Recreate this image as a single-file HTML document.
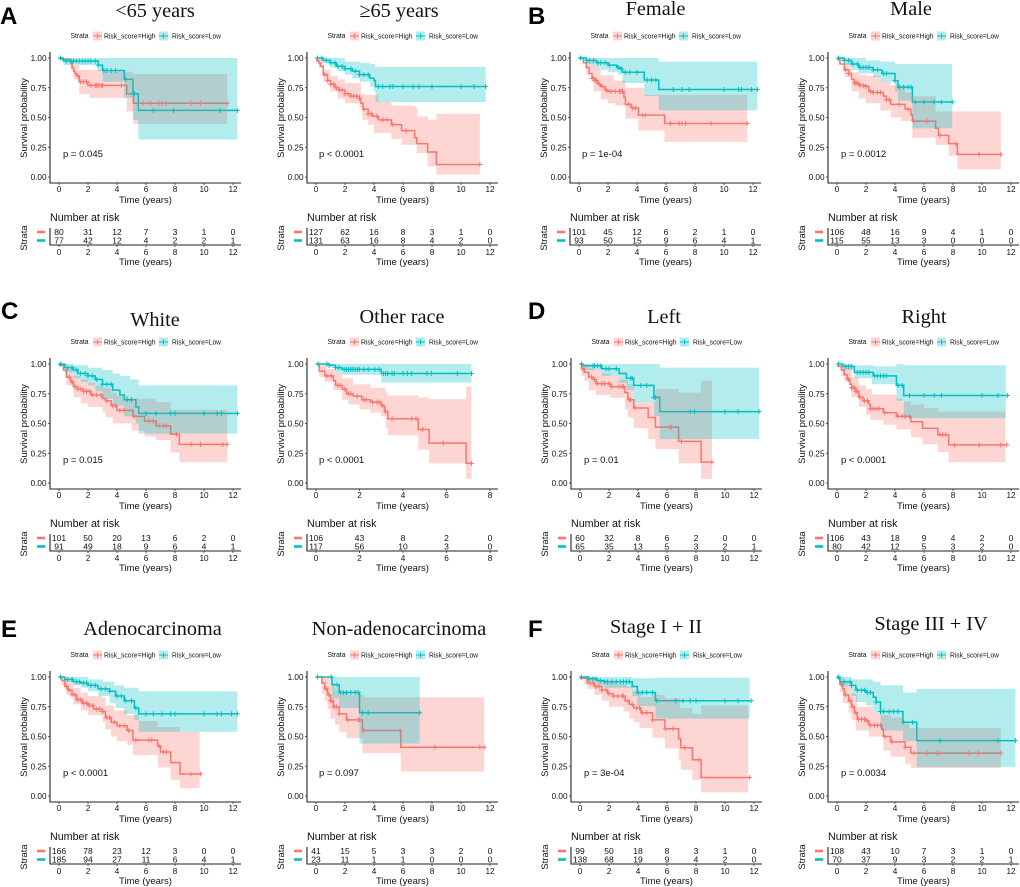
<!DOCTYPE html>
<html lang="en">
<head>
<meta charset="utf-8">
<title>Kaplan-Meier survival curves by risk score</title>
<style>
html,body{margin:0;padding:0;background:#fff;}
svg{display:block;filter:blur(.3px);}
text{font-family:"Liberation Sans",sans-serif;fill:#111;}
.ttl{font-family:"Liberation Serif",serif;font-size:20.3px;text-anchor:middle;fill:#111;}
.ltr{font-size:24px;font-weight:bold;fill:#000;}
.pv{font-size:9.5px;}
</style>
</head>
<body>
<svg id="fig" width="1020" height="887" viewBox="0 0 1020 887" xmlns="http://www.w3.org/2000/svg">
<rect width="1020" height="887" fill="#fff"/>
<text class="ltr" x="0" y="24">A</text>
<text class="ltr" x="528" y="24">B</text>
<text class="ltr" x="1" y="319">C</text>
<text class="ltr" x="528" y="319">D</text>
<text class="ltr" x="1" y="637">E</text>
<text class="ltr" x="528" y="637">F</text>
<text class="ttl" x="155" y="17">&lt;65 years</text>
<text class="ttl" x="399" y="17">≥65 years</text>
<text class="ttl" x="655.5" y="15">Female</text>
<text class="ttl" x="911" y="15">Male</text>
<text class="ttl" x="155" y="326">White</text>
<text class="ttl" x="402" y="323">Other race</text>
<text class="ttl" x="664" y="323">Left</text>
<text class="ttl" x="924" y="323">Right</text>
<text class="ttl" x="152.5" y="635">Adenocarcinoma</text>
<text class="ttl" x="399" y="635">Non-adenocarcinoma</text>
<text class="ttl" x="656" y="633">Stage I + II</text>
<text class="ttl" x="931" y="630">Stage III + IV</text>
<g id="panels"></g>
<g>
<text class="pv" x="63" y="157">p = 0.045</text>
<text class="pv" x="319" y="157">p &lt; 0.0001</text>
<text class="pv" x="582" y="157">p = 1e-04</text>
<text class="pv" x="841" y="157">p = 0.0012</text>
<text class="pv" x="63" y="463">p = 0.015</text>
<text class="pv" x="319" y="463">p &lt; 0.0001</text>
<text class="pv" x="584" y="463">p = 0.01</text>
<text class="pv" x="841" y="463">p &lt; 0.0001</text>
<text class="pv" x="63" y="776">p &lt; 0.0001</text>
<text class="pv" x="319" y="776">p = 0.097</text>
<text class="pv" x="584" y="776">p = 3e-04</text>
<text class="pv" x="841" y="776">p = 0.0034</text>
</g>
</svg>
<script>
const timeTicks12=[0,2,4,6,8,10,12];
const timeTicks8=[0,2,4,6,8];
const survivalTicks=[0,0.25,0.5,0.75,1];
const survivalTickLabels=['0.00','0.25','0.50','0.75','1.00'];

const a1HighCurve=[[0,1],[.2,.99],[.8,.96],[.9,.92],[1,.89],[1.1,.87],[1.2,.85],[1.4,.8],[2,.77],[4.67,.7],[5.13,.62],[11.6,.62]];
const a1HighUpper=[[0,1],[.8,.99],[1,.94],[1.4,.9],[2.9,.885],[5.13,.865],[11.6,.865]];
const a1HighLower=[[0,1],[.8,.9],[1,.82],[1.4,.695],[2.1,.665],[4.67,.55],[5.13,.445],[11.6,.445]];
const a1HighCensor=[1.3,1.5,1.7,1.9,2.2,2.5,2.6,2.7,2.9,3,4.3,5.8,6.3,6.9,7.1,7.35,9.1,9.75,11.6];
const a1LowCurve=[[0,1],[.3,.975],[2.7,.94],[3,.895],[4.5,.82],[5.1,.7],[5.47,.56],[12.3,.56]];
const a1LowUpper=[[0,1],[12.3,1]];
const a1LowLower=[[0,1],[.3,.94],[2.65,.89],[3,.8],[4.5,.665],[5.1,.48],[5.47,.315],[12.3,.315]];
const a1LowCensor=[.1,.5,.8,1,1.2,1.4,1.6,1.8,2,2.2,2.5,2.7,3.1,3.3,3.6,3.9,4.6,5.2,6.5,7.9,11.1,12.3];
const a1RiskHigh=[80,31,12,7,3,1,0];
const a1RiskLow=[77,42,12,4,2,2,1];

const a2HighCurve=[[0,.98],[.2,.96],[.3,.93],[.5,.86],[.8,.81],[1,.78],[1.3,.75],[1.6,.73],[2,.7],[2.4,.68],[3,.66],[3.1,.62],[3.25,.57],[3.6,.53],[3.9,.51],[4.3,.48],[5.2,.44],[5.9,.39],[6.8,.33],[6.95,.28],[7.7,.21],[8.3,.105],[11.3,.105]];
const a2HighUpper=[[0,1],[.5,.9],[1,.85],[1.5,.82],[2,.79],[3.1,.7],[3.3,.69],[4.3,.63],[5.2,.6],[6.8,.585],[7,.51],[7.7,.48],[8.3,.53],[11.3,.53]];
const a2HighLower=[[0,.96],[.2,.92],[.5,.8],[1,.72],[1.5,.66],[2,.62],[3,.58],[3.2,.48],[3.6,.44],[4,.37],[5.2,.32],[5.9,.27],[6.95,.2],[7.7,.09],[8.3,.02],[11.3,.02]];
const a2HighCensor=[.6,.8,1,1.2,1.4,1.6,1.8,2,2.2,2.4,2.6,2.8,3,3.3,3.6,3.8,4.2,4.6,4.9,5.3,6.2,11.3];
const a2LowCurve=[[0,1],[.5,.98],[1,.96],[1.4,.93],[2,.91],[2.5,.89],[3,.86],[3.7,.83],[4,.81],[4.1,.76],[11.7,.76]];
const a2LowUpper=[[0,1],[2,.97],[3,.96],[3.7,.95],[4.1,.925],[11.7,.925]];
const a2LowLower=[[0,1],[.5,.96],[1,.92],[1.5,.89],[2,.86],[2.5,.83],[3,.8],[3.7,.76],[4,.72],[4.1,.63],[11.7,.63]];
const a2LowCensor=[.1,.4,.7,1,1.3,1.5,1.8,2,2.4,2.7,3,3.3,3.6,4.3,4.6,5.1,5.3,6,6.7,7.1,8,10,10.9,11.7];
const a2RiskHigh=[127,62,16,8,3,1,0];
const a2RiskLow=[131,63,16,8,4,2,0];

const b1HighCurve=[[0,1],[.3,.96],[.5,.92],[.7,.87],[.9,.83],[1.1,.81],[1.3,.78],[1.5,.76],[1.8,.73],[2,.72],[3.1,.67],[3.2,.61],[3.6,.58],[4.1,.52],[5.9,.45],[11.6,.45]];
const b1HighUpper=[[0,1],[.5,.97],[1,.92],[1.5,.855],[2.4,.81],[3.2,.75],[4.5,.69],[11.6,.69]];
const b1HighLower=[[0,1],[.5,.86],[1,.72],[1.5,.65],[2,.62],[2.5,.6],[3.2,.49],[4.1,.39],[5.9,.295],[11.6,.295]];
const b1HighCensor=[.9,1,1.1,1.2,1.4,1.6,1.9,2.2,2.5,2.8,2.9,3,3.4,3.7,3.9,4.4,4.6,6.3,6.9,7.1,7.35,9.1,11.6];
const b1LowCurve=[[0,1],[.5,.98],[1.2,.96],[2,.94],[2.6,.92],[2.9,.91],[3,.88],[4.5,.815],[5.5,.735],[12.3,.735]];
const b1LowUpper=[[0,1],[5.5,.97],[12.3,.97]];
const b1LowLower=[[0,1],[.5,.95],[1,.92],[1.5,.9],[2,.88],[2.7,.86],[3,.79],[4.5,.68],[5.5,.56],[12.3,.56]];
const b1LowCensor=[.1,.5,.7,1,1.3,1.5,1.8,2.1,2.7,2.9,3.2,3.5,4,4.7,5,5.3,6.5,7.1,7.6,10,11,11.2,11.9,12.3];
const b1RiskHigh=[101,45,12,6,2,1,0];
const b1RiskLow=[93,50,15,9,6,4,1];

const b2HighCurve=[[0,.99],[.2,.95],[.5,.9],[.8,.87],[1,.82],[1.2,.79],[1.5,.77],[2,.76],[2.2,.72],[2.5,.71],[3.2,.68],[3.4,.65],[3.7,.61],[4.7,.57],[5.1,.52],[5.2,.47],[6.8,.41],[7,.35],[7.7,.28],[8.3,.19],[11.3,.19]];
const b2HighUpper=[[0,1],[.5,.96],[1,.88],[1.5,.86],[2,.85],[3,.8],[3.7,.77],[4.7,.71],[5.2,.68],[6.8,.55],[11.3,.55]];
const b2HighLower=[[0,.97],[.5,.84],[1,.72],[1.5,.66],[2,.62],[3,.56],[3.7,.5],[4.4,.47],[5.2,.33],[6.8,.27],[7.7,.18],[8.3,.065],[11.3,.065]];
const b2HighCensor=[.6,.8,1.2,1.3,1.4,1.6,1.8,2,2.3,2.5,2.8,3,3.4,3.6,4.3,4.9,5.3,6.2,7.1,8.2,9.8,11.3];
const b2LowCurve=[[0,1],[.5,.98],[1,.95],[1.5,.92],[2.5,.9],[3.1,.87],[4,.81],[4.2,.755],[5.2,.63],[7.95,.63]];
const b2LowUpper=[[0,1],[2,.98],[3,.97],[4,.95],[7.95,.95]];
const b2LowLower=[[0,1],[.5,.94],[1,.9],[1.5,.87],[2.5,.84],[3,.8],[4,.72],[4.2,.64],[5.2,.41],[7.95,.41]];
const b2LowCensor=[.1,.5,.8,1.1,1.4,1.6,1.8,2,2.2,2.5,2.8,3.2,3.4,4,4.3,4.6,4.9,5.1,5.4,6,6.7,7.2,7.95];
const b2RiskHigh=[106,48,16,9,4,1,0];
const b2RiskLow=[115,55,13,3,0,0,0];

const c1HighCurve=[[0,.99],[.3,.95],[.5,.89],[.8,.85],[1,.81],[1.3,.79],[1.7,.77],[2.2,.74],[3,.71],[3.2,.69],[3.6,.65],[4,.61],[5.1,.56],[5.9,.52],[6.7,.48],[7.7,.41],[8.3,.325],[11.6,.325]];
const c1HighUpper=[[0,1],[.5,.96],[1,.9],[1.5,.87],[2,.84],[2.5,.82],[3,.8],[3.6,.76],[4,.73],[4.8,.71],[6.7,.68],[7.7,.615],[11.6,.615]];
const c1HighLower=[[0,.98],[.5,.82],[1,.72],[1.5,.67],[2,.64],[3,.6],[3.2,.55],[3.7,.5],[5,.44],[5.9,.39],[6.7,.36],[7.7,.255],[8.3,.175],[11.6,.175]];
const c1HighCensor=[.7,.9,1.1,1.3,1.5,1.7,1.9,2.1,2.3,2.6,2.9,3.3,3.7,3.9,4.2,4.5,5.2,6.2,6.5,6.9,7.2,7.4,8.1,9.1,9.75,11.3,11.6];
const c1LowCurve=[[0,1],[.4,.97],[1,.95],[1.3,.92],[2,.9],[2.5,.87],[3,.83],[3.7,.78],[4.2,.74],[4.5,.7],[5.3,.64],[5.5,.585],[12.3,.585]];
const c1LowUpper=[[0,1],[1,.99],[2,.97],[3,.95],[3.7,.92],[4.2,.9],[4.9,.87],[5.5,.82],[12.3,.82]];
const c1LowLower=[[0,1],[.4,.93],[1,.88],[1.5,.85],[2,.82],[2.5,.77],[3,.71],[3.7,.65],[4.5,.56],[5.3,.5],[5.5,.415],[12.3,.415]];
const c1LowCensor=[.1,.6,.9,1.2,1.5,1.8,2,2.3,2.6,3,3.3,3.6,4.7,5,6,6.7,7.7,8,10,10.9,11.2,12.3];
const c1RiskHigh=[101,50,20,13,6,2,0];
const c1RiskLow=[91,49,18,9,6,4,1];

const c2HighCurve=[[0,1],[.15,.94],[.4,.9],[.8,.86],[.9,.82],[1.2,.79],[1.4,.75],[1.7,.73],[2.1,.7],[2.5,.68],[3,.65],[3.15,.6],[3.3,.54],[4.7,.45],[5.2,.335],[6.9,.165],[7.15,.165]];
const c2HighUpper=[[0,1],[.5,.96],[.9,.93],[1.2,.88],[1.7,.83],[2.5,.8],[3.2,.76],[3.3,.735],[4.7,.72],[5.2,.705],[6.9,.81],[7.15,.81]];
const c2HighLower=[[0,1],[.15,.89],[.4,.85],[.8,.78],[1.2,.7],[1.5,.66],[2,.62],[2.5,.59],[3,.56],[3.2,.46],[3.3,.4],[4.7,.28],[5.2,.165],[6.9,.035],[7.15,.035]];
const c2HighCensor=[.5,.7,1,1.1,1.3,1.5,1.6,1.9,2.2,2.3,2.6,2.8,2.9,3.05,3.2,3.5,4.4,4.6,4.9,5.85,7.15];
const c2LowCurve=[[0,1],[.6,.99],[.9,.97],[1.2,.955],[3,.92],[7.15,.92]];
const c2LowUpper=[[0,1],[7.15,1]];
const c2LowLower=[[0,1],[.6,.97],[.9,.93],[1.2,.91],[3,.845],[7.15,.845]];
const c2LowCensor=[.1,.5,.6,.9,1.05,1.3,1.4,1.5,1.6,1.7,1.8,1.9,2,2.2,2.4,2.7,2.9,3.1,3.2,3.3,3.5,3.6,4,4.2,4.4,5.1,5.3,6.5,7.15];
const c2RiskHigh=[106,43,8,2,0];
const c2RiskLow=[117,56,10,3,0];

const d1HighCurve=[[0,1],[.1,.96],[.3,.93],[.6,.89],[.9,.87],[1.1,.835],[2.1,.81],[3.1,.76],[3.3,.7],[3.7,.63],[4.7,.55],[5.2,.47],[6.8,.35],[8.35,.175],[9.1,.175]];
const d1HighUpper=[[0,1],[.6,.97],[1,.95],[1.5,.92],[2.1,.9],[2.7,.87],[3.3,.83],[3.7,.68],[5.2,.79],[6.8,.76],[8.35,.86],[9.1,.86]];
const d1HighLower=[[0,1],[.1,.9],[.3,.86],[.6,.78],[1.1,.74],[2.1,.715],[3.1,.62],[3.3,.55],[3.7,.46],[4.7,.37],[5.2,.285],[6.8,.165],[8.35,.035],[9.1,.035]];
const d1HighCensor=[.2,.8,1,1.2,1.5,1.7,2,2.2,2.7,2.9,3,3.4,3.5,3.8,6.2,6.3,7,9.1];
const d1LowCurve=[[0,1],[.2,.985],[1.5,.96],[2.7,.92],[3.2,.88],[3.7,.82],[5.1,.72],[5.5,.6],[12.35,.6]];
const d1LowUpper=[[0,1],[5.5,.97],[12.35,.97]];
const d1LowLower=[[0,1],[.2,.95],[1.5,.9],[2.7,.84],[3.2,.78],[3.7,.68],[5.1,.56],[5.5,.37],[12.35,.37]];
const d1LowCensor=[.1,.9,1,1.2,1.4,1.8,2,2.5,3.5,3.6,4.2,4.6,5.1,5.2,7.6,7.9,10,10.9,12.35];
const d1RiskHigh=[60,32,8,6,2,0,0];
const d1RiskLow=[65,35,13,5,3,2,1];

const d2HighCurve=[[0,.98],[.3,.95],[.5,.91],[.7,.87],[.9,.83],[1,.8],[1.3,.77],[1.5,.72],[1.8,.69],[2.2,.66],[2.3,.625],[3.2,.59],[4.1,.56],[5.1,.515],[5.9,.46],[6.95,.405],[7.7,.32],[11.7,.32]];
const d2HighUpper=[[0,1],[.5,.97],[1,.89],[1.5,.82],[2,.79],[2.4,.745],[4.1,.71],[4.5,.685],[5.1,.66],[6,.63],[7,.6],[11.6,.6]];
const d2HighLower=[[0,.98],[.3,.9],[.5,.85],[1,.72],[1.5,.64],[2,.58],[2.3,.53],[3.2,.49],[4.1,.45],[5.1,.385],[5.9,.325],[6.95,.26],[7.7,.175],[11.6,.175]];
const d2HighCensor=[.8,1,1.1,1.2,1.3,1.4,1.6,1.9,2.1,2.3,2.5,2.7,2.9,3.3,4.2,4.5,4.7,5,7.1,7.3,7.5,8.1,9.8,11.3,11.7];
const d2LowCurve=[[0,1],[.4,.98],[1.2,.93],[2.5,.9],[4.1,.82],[4.6,.735],[11.75,.735]];
const d2LowUpper=[[0,1],[1,.99],[2.5,.98],[4.1,1],[4.6,.99],[11.65,.99]];
const d2LowLower=[[0,1],[.4,.95],[1.2,.88],[2.4,.83],[4.1,.69],[4.6,.545],[11.65,.545]];
const d2LowCensor=[.1,.6,.8,1,1.4,1.6,1.8,2,2.2,2.6,2.8,3,3.2,3.4,4.2,4.5,5,6,6.7,7.2,10,11.1,11.75];
const d2RiskHigh=[106,43,18,9,4,2,0];
const d2RiskLow=[80,42,12,5,3,2,0];

const e1HighCurve=[[0,1],[.2,.97],[.4,.92],[.6,.89],[.9,.85],[1.2,.81],[1.6,.78],[2,.76],[2.4,.73],[3,.71],[3.2,.66],[3.6,.62],[4,.59],[4.7,.55],[5.1,.47],[6.8,.42],[7,.37],[7.7,.28],[8.35,.185],[9.8,.185]];
const e1HighUpper=[[0,1],[.4,.97],[1,.91],[1.5,.87],[2,.84],[3,.83],[3.2,.76],[3.8,.72],[4.7,.68],[5.5,.63],[6.8,.58],[8.35,.54],[9.7,.54]];
const e1HighLower=[[0,1],[.2,.93],[.5,.85],[1,.77],[1.5,.72],[2,.68],[3,.62],[3.2,.56],[3.6,.5],[4,.46],[4.7,.43],[5.1,.345],[6.8,.24],[7.7,.135],[8.35,.065],[9.7,.065]];
const e1HighCensor=[.5,.7,.9,1.1,1.3,1.5,1.7,1.9,2.1,2.3,2.6,2.8,3,3.3,3.5,3.8,4.2,4.5,4.8,5.3,6.2,6.4,6.9,7.2,7.4,9.1,9.75];
const e1LowCurve=[[0,1],[.4,.98],[1,.96],[1.5,.95],[2,.93],[2.7,.9],[3.5,.88],[3.9,.84],[4.5,.8],[5.2,.74],[5.5,.69],[12.3,.69]];
const e1LowUpper=[[0,1],[2,.98],[3,.96],[3.8,.93],[4.5,.91],[5.5,.88],[12.3,.88]];
const e1LowLower=[[0,1],[.4,.96],[1,.93],[1.5,.91],[2,.88],[2.7,.84],[3.5,.78],[3.9,.74],[4.5,.69],[5.2,.64],[5.5,.54],[12.3,.54]];
const e1LowCensor=[.1,.6,.9,1.2,1.4,1.7,1.9,2.2,2.5,2.9,3.2,3.5,4,4.3,4.6,5,5.3,6,6.5,7.1,7.7,8,10,10.9,11.2,11.9,12.3];
const e1RiskHigh=[166,78,23,12,3,0,0];
const e1RiskLow=[185,94,27,11,6,4,1];

const e2HighCurve=[[0,1],[.4,.95],[.6,.9],[.8,.85],[1,.8],[1.2,.75],[1.6,.69],[2.1,.64],[3.2,.55],[5.85,.41],[11.6,.41]];
const e2HighUpper=[[0,1],[1,.95],[1.3,.9],[1.6,.88],[2.2,.85],[3.3,.83],[11.6,.83]];
const e2HighLower=[[0,1],[.4,.86],[.6,.8],[.8,.73],[1,.65],[1.3,.6],[1.6,.54],[2.1,.485],[3.2,.36],[5.85,.205],[11.6,.205]];
const e2HighCensor=[.7,.9,1,1.1,1.25,1.4,1.6,2.2,2.9,3,3.3,5.8,8.2,11.3,11.6];
const e2LowCurve=[[0,1],[1.1,.935],[1.6,.87],[3,.7],[7.15,.7]];
const e2LowUpper=[[0,1],[7.15,1]];
const e2LowLower=[[0,1],[1.1,.82],[1.6,.74],[3,.44],[7.15,.44]];
const e2LowCensor=[.1,1.05,1.45,1.7,1.9,2.1,2.4,2.7,2.9,3.2,3.6,7.15];
const e2RiskHigh=[41,15,5,3,3,2,0];
const e2RiskLow=[23,11,1,1,0,0,0];

const f1HighCurve=[[0,.99],[.5,.95],[1,.92],[1.5,.89],[1.9,.86],[2.3,.84],[3.1,.8],[3.4,.77],[3.7,.74],[4.2,.7],[5,.64],[5.85,.565],[6.8,.48],[6.95,.405],[7.75,.305],[8.35,.155],[11.7,.155]];
const f1HighUpper=[[0,1],[1,.98],[1.5,.97],[2.5,.94],[3.2,.92],[3.6,.88],[4.2,.83],[5,.85],[5.85,.82],[6.9,.74],[7.75,.69],[8.35,.76],[11.6,.76]];
const f1HighLower=[[0,.98],[.3,.94],[.5,.9],[1,.85],[1.5,.8],[2,.75],[3,.71],[3.4,.65],[3.7,.62],[4.1,.57],[5,.49],[5.85,.4],[6.8,.305],[6.95,.22],[7.75,.135],[8.35,.03],[11.6,.03]];
const f1HighCensor=[.7,.9,1.1,1.3,1.5,1.8,2,2.3,2.6,2.9,3,3.3,3.6,3.9,4.1,4.3,4.6,5,5.9,6.4,7.2,8.2,11.7];
const f1LowCurve=[[0,1],[.6,.985],[1.2,.97],[1.7,.96],[3.6,.92],[3.95,.87],[5.2,.8],[11.8,.8]];
const f1LowUpper=[[0,1],[3.6,.99],[5.2,.995],[11.7,.995]];
const f1LowLower=[[0,1],[.6,.96],[1.2,.93],[1.7,.91],[3.6,.84],[3.95,.755],[5.2,.65],[11.7,.65]];
const f1LowCensor=[.1,.6,.9,1.1,1.4,1.7,1.9,2.2,2.5,2.8,3,3.2,3.4,4,4.3,4.6,5,5.3,6.6,7.1,7.6,8,10,10.9,11.8];
const f1RiskHigh=[99,50,18,8,3,1,0];
const f1RiskLow=[138,68,19,9,4,2,0];

const f2HighCurve=[[0,.99],[.2,.94],[.4,.9],[.5,.85],[.8,.8],[1,.75],[1.2,.7],[1.4,.645],[2,.63],[2.2,.595],[3.1,.56],[3.2,.5],[3.7,.455],[4.7,.41],[5.1,.36],[11.3,.36]];
const f2HighUpper=[[0,1],[.5,.97],[.8,.92],[1,.86],[1.4,.75],[2.5,.7],[3.1,.68],[3.7,.66],[4.6,.61],[5,.57],[11.3,.57]];
const f2HighLower=[[0,1],[.2,.87],[.4,.78],[.8,.7],[1,.64],[1.3,.55],[2.2,.5],[3.2,.38],[3.7,.33],[4.7,.27],[5.1,.235],[11.3,.235]];
const f2HighCensor=[.3,.6,.9,1.1,1.3,1.5,1.7,1.9,2.1,2.3,2.6,2.8,3,3.3,3.8,4.7,5.3,6.2,6.9,7.1,9.1,9.75,11.3];
const f2LowCurve=[[0,1],[.2,.96],[1,.93],[1.3,.89],[2,.87],[2.5,.83],[2.7,.79],[3,.71],[4.55,.62],[5.5,.465],[12.3,.465]];
const f2LowUpper=[[0,1],[1,.98],[2.5,.96],[3,.93],[4.55,.87],[5.5,.9],[12.3,.9]];
const f2LowLower=[[0,1],[.2,.92],[1,.84],[1.3,.79],[2,.76],[2.5,.7],[3,.55],[4.55,.46],[5.5,.245],[12.3,.245]];
const f2LowCensor=[.1,.5,.9,1,1.4,1.7,1.9,2.1,2.3,2.7,3,3.2,3.6,3.9,4.2,4.6,5.2,7.1,11.1,12.3];
const f2RiskHigh=[108,43,10,7,3,1,0];
const f2RiskLow=[70,37,9,3,2,2,1];

const HIGH_COLOR='#F8766D';
const LOW_COLOR='#00BFC4';
const NS='http://www.w3.org/2000/svg';

function make(tag,attrs,parent,txt){
  const e=document.createElementNS(NS,tag);
  for(const k in attrs){e.setAttribute(k,attrs[k]);}
  if(txt!==undefined){e.textContent=txt;}
  parent.appendChild(e);
  return e;
}
function stepPoints(pairs,x,y){
  const pts=[[x(pairs[0][0]),y(pairs[0][1])]];
  for(let i=1;i<pairs.length;i++){
    pts.push([x(pairs[i][0]),y(pairs[i-1][1])]);
    pts.push([x(pairs[i][0]),y(pairs[i][1])]);
  }
  return pts;
}
function survivalAt(pairs,t){
  let s=pairs[0][1];
  for(const p of pairs){if(p[0]<=t){s=p[1];}}
  return s;
}
function fmt(pts){return pts.map(p=>p[0].toFixed(2)+','+p[1].toFixed(2)).join(' ');}

function drawLine(g,pairs,color,x,y){
  const l=make('polyline',{points:fmt(stepPoints(pairs,x,y)),fill:'none',stroke:color,'stroke-width':1.5},g);
  
  
}
function drawBand(g,upper,lower,color,x,y){
  const pts=stepPoints(upper,x,y).concat(stepPoints(lower,x,y).reverse());
  const b=make('polygon',{points:fmt(pts),fill:color,'fill-opacity':0.3,stroke:'none'},g);
  
  
}
function drawCensors(g,times,pairs,color,x,y){
  for(const t of times){
    const cx=x(t), cy=y(survivalAt(pairs,t));
    const c=make('path',{d:'M'+(cx-2.5)+' '+cy+'H'+(cx+2.5)+'M'+cx+' '+(cy-2.5)+'V'+(cy+2.5),stroke:color,'stroke-width':1,fill:'none'},g);
    
    
  }
}

function drawPanel(o){
  const root=document.getElementById('panels');
  const g=make('g',{},root);
  
  
  const ticks=o.ticks, maxT=ticks[ticks.length-1];
  const x=t=>o.x0+t/maxT*174;
  const y=s=>o.y0-s*119;
  const axisX=o.x0-9, axisEnd=o.x0+182;
  const y0=o.y0;

  const lt=make('text',{x:o.x0+11.5,y:y0-139,'font-size':7.1,textLength:18,lengthAdjust:'spacingAndGlyphs'},g,'Strata');
  
  
  const keys=[[34,45,HIGH_COLOR,'Risk_score=High',51.5],[100,113,LOW_COLOR,'Risk_score=Low',49]];
  for(const k of keys){
    const kx=o.x0+k[0], ky=y0-141;
    const kb=make('rect',{x:kx,y:ky-4.5,width:9,height:9,fill:k[2],'fill-opacity':0.3},g);
    
    
    const km=make('path',{d:'M'+kx+' '+ky+'H'+(kx+9)+'M'+(kx+4.5)+' '+(ky-2.5)+'V'+(ky+2.5),stroke:k[2],'stroke-width':1,fill:'none'},g);
    
    
    const kt=make('text',{x:o.x0+k[1],y:ky+2.5,'font-size':7.3,textLength:k[4],lengthAdjust:'spacingAndGlyphs'},g,k[3]);
    
    
  }

  drawLine(g,o.highCurve,HIGH_COLOR,x,y);
  drawLine(g,o.lowCurve,LOW_COLOR,x,y);
  drawBand(g,o.highUpper,o.highLower,HIGH_COLOR,x,y);
  drawBand(g,o.lowUpper,o.lowLower,LOW_COLOR,x,y);
  drawCensors(g,o.highCensor,o.highCurve,HIGH_COLOR,x,y);
  drawCensors(g,o.lowCensor,o.lowCurve,LOW_COLOR,x,y);

  const ax=make('path',{d:'M'+axisX+' '+(y0-125)+'V'+(y0+6)+'H'+axisEnd,fill:'none',stroke:'#222','stroke-width':1.1},g);
  
  

  survivalTicks.forEach((v,i)=>{
    const tm=make('line',{x1:axisX-2,x2:axisX,y1:y(v),y2:y(v),stroke:'#333','stroke-width':0.8},g);
    
    
    const tl=make('text',{x:axisX-3.5,y:y(v)+3,'font-size':8.2,'text-anchor':'end'},g,survivalTickLabels[i]);
    
    
  });
  const yt=make('text',{transform:'translate('+(axisX-23)+','+(y0-59)+') rotate(-90)','font-size':9.5,'text-anchor':'middle'},g,'Survival probability');
  
  

  ticks.forEach(v=>{
    const tm=make('line',{x1:x(v),x2:x(v),y1:y0+6,y2:y0+8,stroke:'#333','stroke-width':0.8},g);
    
    
    const tl=make('text',{x:x(v),y:y0+15,'font-size':8.2,'text-anchor':'middle'},g,String(v));
    
    
  });
  const midX=(axisX+axisEnd)/2;
  const xt=make('text',{x:midX,y:y0+26,'font-size':9.5,'text-anchor':'middle'},g,'Time (years)');
  
  

  const rt=make('text',{x:axisX,y:y0+44,'font-size':10.7},g,'Number at risk');
  
  
  const ra=make('path',{d:'M'+axisX+' '+(y0+51)+'V'+(y0+68)+'H'+axisEnd,fill:'none',stroke:'#222','stroke-width':1.1},g);
  
  
  const rows=[[o.riskHigh,HIGH_COLOR,55],[o.riskLow,LOW_COLOR,63.5]];
  for(const r of rows){
    const key=make('line',{x1:axisX-13,x2:axisX-5,y1:y0+r[2],y2:y0+r[2],stroke:r[1],'stroke-width':2.6},g);
    
    
    r[0].forEach((n,i)=>{
      const c=make('text',{x:x(ticks[i]),y:y0+r[2]+3,'font-size':8.5,'text-anchor':'middle'},g,String(n));
      
      
    });
  }
  ticks.forEach(v=>{
    const tm=make('line',{x1:x(v),x2:x(v),y1:y0+68,y2:y0+70,stroke:'#333','stroke-width':0.8},g);
    
    
    const tl=make('text',{x:x(v),y:y0+78,'font-size':8.2,'text-anchor':'middle'},g,String(v));
    
    
  });
  const rxt=make('text',{x:midX,y:y0+88,'font-size':9.5,'text-anchor':'middle'},g,'Time (years)');
  
  
  const st=make('text',{transform:'translate('+(axisX-23)+','+(y0+61)+') rotate(-90)','font-size':9.5,'text-anchor':'middle'},g,'Strata');
  
  
}

drawPanel({x0:59,y0:177,ticks:timeTicks12,highCurve:a1HighCurve,highUpper:a1HighUpper,highLower:a1HighLower,highCensor:a1HighCensor,lowCurve:a1LowCurve,lowUpper:a1LowUpper,lowLower:a1LowLower,lowCensor:a1LowCensor,riskHigh:a1RiskHigh,riskLow:a1RiskLow});
drawPanel({x0:316,y0:177,ticks:timeTicks12,highCurve:a2HighCurve,highUpper:a2HighUpper,highLower:a2HighLower,highCensor:a2HighCensor,lowCurve:a2LowCurve,lowUpper:a2LowUpper,lowLower:a2LowLower,lowCensor:a2LowCensor,riskHigh:a2RiskHigh,riskLow:a2RiskLow});
drawPanel({x0:579,y0:177,ticks:timeTicks12,highCurve:b1HighCurve,highUpper:b1HighUpper,highLower:b1HighLower,highCensor:b1HighCensor,lowCurve:b1LowCurve,lowUpper:b1LowUpper,lowLower:b1LowLower,lowCensor:b1LowCensor,riskHigh:b1RiskHigh,riskLow:b1RiskLow});
drawPanel({x0:837,y0:177,ticks:timeTicks12,highCurve:b2HighCurve,highUpper:b2HighUpper,highLower:b2HighLower,highCensor:b2HighCensor,lowCurve:b2LowCurve,lowUpper:b2LowUpper,lowLower:b2LowLower,lowCensor:b2LowCensor,riskHigh:b2RiskHigh,riskLow:b2RiskLow});
drawPanel({x0:59,y0:483,ticks:timeTicks12,highCurve:c1HighCurve,highUpper:c1HighUpper,highLower:c1HighLower,highCensor:c1HighCensor,lowCurve:c1LowCurve,lowUpper:c1LowUpper,lowLower:c1LowLower,lowCensor:c1LowCensor,riskHigh:c1RiskHigh,riskLow:c1RiskLow});
drawPanel({x0:316,y0:483,ticks:timeTicks8,highCurve:c2HighCurve,highUpper:c2HighUpper,highLower:c2HighLower,highCensor:c2HighCensor,lowCurve:c2LowCurve,lowUpper:c2LowUpper,lowLower:c2LowLower,lowCensor:c2LowCensor,riskHigh:c2RiskHigh,riskLow:c2RiskLow});
drawPanel({x0:580,y0:483,ticks:timeTicks12,highCurve:d1HighCurve,highUpper:d1HighUpper,highLower:d1HighLower,highCensor:d1HighCensor,lowCurve:d1LowCurve,lowUpper:d1LowUpper,lowLower:d1LowLower,lowCensor:d1LowCensor,riskHigh:d1RiskHigh,riskLow:d1RiskLow});
drawPanel({x0:837,y0:483,ticks:timeTicks12,highCurve:d2HighCurve,highUpper:d2HighUpper,highLower:d2HighLower,highCensor:d2HighCensor,lowCurve:d2LowCurve,lowUpper:d2LowUpper,lowLower:d2LowLower,lowCensor:d2LowCensor,riskHigh:d2RiskHigh,riskLow:d2RiskLow});
drawPanel({x0:59,y0:796,ticks:timeTicks12,highCurve:e1HighCurve,highUpper:e1HighUpper,highLower:e1HighLower,highCensor:e1HighCensor,lowCurve:e1LowCurve,lowUpper:e1LowUpper,lowLower:e1LowLower,lowCensor:e1LowCensor,riskHigh:e1RiskHigh,riskLow:e1RiskLow});
drawPanel({x0:316,y0:796,ticks:timeTicks12,highCurve:e2HighCurve,highUpper:e2HighUpper,highLower:e2HighLower,highCensor:e2HighCensor,lowCurve:e2LowCurve,lowUpper:e2LowUpper,lowLower:e2LowLower,lowCensor:e2LowCensor,riskHigh:e2RiskHigh,riskLow:e2RiskLow});
drawPanel({x0:580,y0:796,ticks:timeTicks12,highCurve:f1HighCurve,highUpper:f1HighUpper,highLower:f1HighLower,highCensor:f1HighCensor,lowCurve:f1LowCurve,lowUpper:f1LowUpper,lowLower:f1LowLower,lowCensor:f1LowCensor,riskHigh:f1RiskHigh,riskLow:f1RiskLow});
drawPanel({x0:837,y0:796,ticks:timeTicks12,highCurve:f2HighCurve,highUpper:f2HighUpper,highLower:f2HighLower,highCensor:f2HighCensor,lowCurve:f2LowCurve,lowUpper:f2LowUpper,lowLower:f2LowLower,lowCensor:f2LowCensor,riskHigh:f2RiskHigh,riskLow:f2RiskLow});
</script>
</body>
</html>
